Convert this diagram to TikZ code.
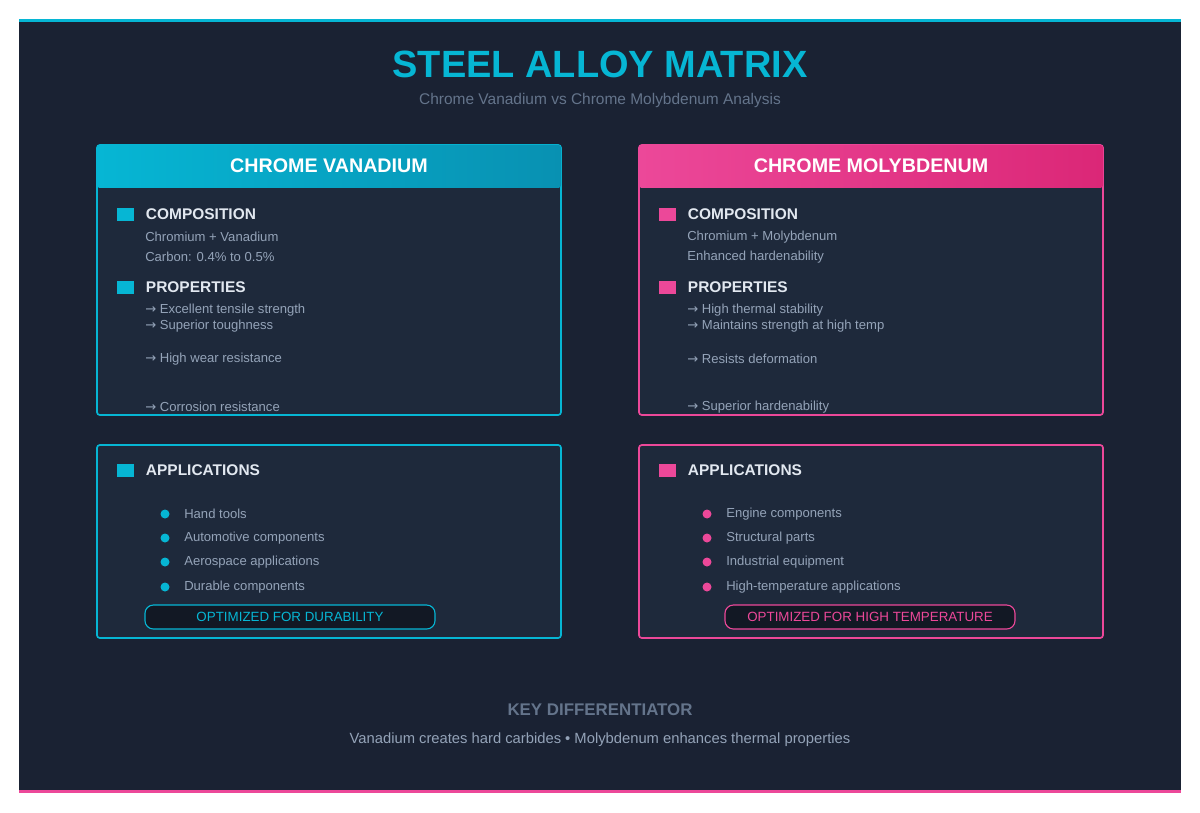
\documentclass[tikz,border=0pt]{standalone}
\usepackage{fontspec}
\setmainfont{Liberation Sans}
\newfontfamily\symfont{DejaVu Sans}
\usetikzlibrary{positioning}
\definecolor{bgdark}{HTML}{1A2233}
\definecolor{cardbg}{HTML}{1E293B}
\definecolor{cyanc}{HTML}{06B6D4}
\definecolor{cyand}{HTML}{0891B2}
\definecolor{pinkc}{HTML}{EC4899}
\definecolor{pinkd}{HTML}{DB2777}
\definecolor{graytxt}{HTML}{94A3B8}
\definecolor{lighttxt}{HTML}{E2E8F0}
\definecolor{dimtxt}{HTML}{64748B}
\newcommand{\rarr}{{\symfont →}}
\tikzset{
  card/.style={draw=#1, line width=1.2pt, fill=cardbg, rounded corners=2pt},
  sectitle/.style={anchor=west, text=lighttxt, font=\fontsize{11}{13}\selectfont\bfseries},
  body/.style={anchor=west, text=graytxt, font=\fontsize{9.3}{11}\selectfont, inner sep=0pt},
  headtxt/.style={text=white, font=\fontsize{14}{16}\selectfont\bfseries},
  pill/.style={draw=#1, line width=0.8pt, rounded corners=6pt, fill=bgdark!70!black, text=#1,
    minimum width=7.25cm, minimum height=0.6cm, font=\fontsize{9.5}{11}\selectfont},
}
\begin{document}
\begin{tikzpicture}[x=0.025cm, y=-0.025cm]
\useasboundingbox (0,0) rectangle (1200,813);
\fill[white] (0,0) rectangle (1200,813);
\fill[bgdark] (19,20) rectangle (1181,793);
\fill[cyanc] (19,19) rectangle (1181,22);
\fill[pinkc] (19,790) rectangle (1181,793);

\node[text=cyanc, font=\fontsize{27}{29}\selectfont\bfseries] (title) at (600,64) {STEEL ALLOY MATRIX};
\node[text=dimtxt, font=\fontsize{11}{13}\selectfont] (subtitle) at (600,101) {Chrome Vanadium vs Chrome Molybdenum Analysis};

% two columns
\foreach \cx/\col/\cold/\name/\comA/\comB/\pA/\pB/\pC/\pD/\aA/\aB/\aC/\aD/\opt/\px/\tag in {
  97/cyanc/cyand/CHROME VANADIUM/Chromium + Vanadium/Carbon: 0.4\% to 0.5\%/Excellent tensile strength/Superior toughness/High wear resistance/Corrosion resistance/Hand tools/Automotive components/Aerospace applications/Durable components/OPTIMIZED FOR DURABILITY/290/cv,
  639/pinkc/pinkd/CHROME MOLYBDENUM/Chromium + Molybdenum/Enhanced hardenability/High thermal stability/Maintains strength at high temp/Resists deformation/Superior hardenability/Engine components/Structural parts/Industrial equipment/High-temperature applications/OPTIMIZED FOR HIGH TEMPERATURE/870/cm}{
  % upper card
  \draw[card=\col] (\cx,145) rectangle (\cx+464,415);
  \shade[left color=\col, right color=\cold, rounded corners=2pt] (\cx,145) rectangle (\cx+464,188);
  \node[headtxt] (\tag head) at (\cx+232,166) {\name};
  \fill[\col] (\cx+20,208) rectangle (\cx+37,221);
  \node[sectitle] (\tag comp) at (\cx+44,214) {COMPOSITION};
  \node[body] (\tag c1) at (\cx+48,237) {\comA};
  \node[body] (\tag c2) at (\cx+48,257) {\comB};
  \fill[\col] (\cx+20,281) rectangle (\cx+37,294);
  \node[sectitle] (\tag prop) at (\cx+44,287) {PROPERTIES};
  \node[body] (\tag p1) at (\cx+48,310) {\rarr\ \pA};
  \node[body] (\tag p2) at (\cx+48,326) {\rarr\ \pB};
  \node[body] (\tag p3) at (\cx+48,359) {\rarr\ \pC};
  \node[body] (\tag p4) at (\cx+48,407) {\rarr\ \pD};
  % lower card
  \draw[card=\col] (\cx,445) rectangle (\cx+464,638);
  \fill[\col] (\cx+20,464) rectangle (\cx+37,477);
  \node[sectitle] (\tag app) at (\cx+44,470) {APPLICATIONS};
  \foreach \y/\t [count=\i] in {514/\aA, 538/\aB, 562/\aC, 587/\aD}{
    \fill[\col] (\cx+68,\y) circle (4.5);
    \node[body] (\tag a\i) at (\cx+87,\y) {\t};
  }
  \node[pill=\col] (\tag opt) at (\px,617) {\opt};
}

\node[text=dimtxt, font=\fontsize{12}{14}\selectfont\bfseries] (keyhead) at (600,710) {KEY DIFFERENTIATOR};
\node[text=graytxt, font=\fontsize{10.5}{12}\selectfont] (keytxt) at (600,740) {Vanadium creates hard carbides • Molybdenum enhances thermal properties};
\end{tikzpicture}
\end{document}
